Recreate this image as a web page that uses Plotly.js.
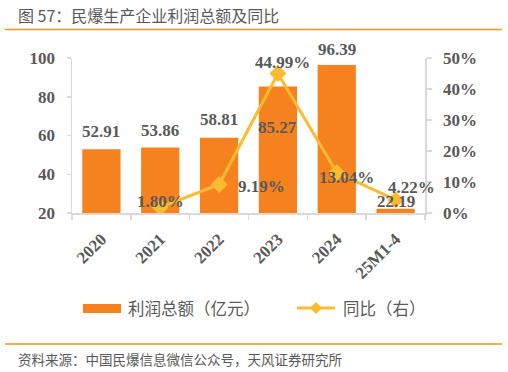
<!DOCTYPE html>
<html><head><meta charset="utf-8">
<script src="https://cdn.plot.ly/plotly-3.0.1.min.js"></script>
<style>html,body{margin:0;padding:0;background:#fff;}#chart{width:508px;height:372px;}</style>
</head><body><div id="chart"></div>
<script>
const categories = ['2020','2021','2022','2023','2024','25M1-4'];
const profit = [52.91, 53.86, 58.81, 85.27, 96.39, 22.19];
const yoy = [null, 0.0180, 0.0919, 0.4499, 0.1304, 0.0422];
const profitLabels = ['52.91','53.86','58.81','85.27','96.39','22.19'];
const yoyLabels = [null,'1.80%','9.19%','44.99%','13.04%','4.22%'];
const leftTicks = [20,40,60,80,100];
const rightTicks = [0,0.1,0.2,0.3,0.4,0.5];
const rightTickText = ['0%','10%','20%','30%','40%','50%'];

const W=508,H=372,L=72,R=83,T=58,B=159;
const pw=W-L-R, ph=H-T-B;
const px = x => (x-L)/pw;
const py = y => (H-B-y)/ph;

const ORANGE='#F5821F', GOLD='#FDBB2F', GRAY='#595959', AX='#D9D9D9';
const numFont={family:'"Liberation Serif", "Times New Roman", serif', size:17, color:GRAY, weight:'bold'};
const cjk='"Noto Sans CJK SC", "Noto Sans", sans-serif';

const barOff=[18,17,18,-41,15,7];
const lineOff=[null,[0,6],[42,-2],[5,11],[10,-5],[16,12]];

const annotations=[];
profit.forEach((v,i)=>{
  annotations.push({x:i, y:v, xref:'x', yref:'y', text:profitLabels[i], showarrow:false,
    yshift:barOff[i], font:numFont, xanchor:'center', yanchor:'middle'});
});
yoy.forEach((v,i)=>{
  if(v===null) return;
  annotations.push({x:i, y:v, xref:'x', yref:'y2', text:yoyLabels[i], showarrow:false,
    xshift:lineOff[i][0], yshift:lineOff[i][1], font:numFont, xanchor:'center', yanchor:'middle'});
});
annotations.push({x:px(16), y:py(15), xref:'paper', yref:'paper', xanchor:'left', yanchor:'middle', showarrow:false,
  text:'图 57：民爆生产企业利润总额及同比', font:{family:cjk, size:16, color:GRAY}});
annotations.push({x:px(16), y:py(359), xref:'paper', yref:'paper', xanchor:'left', yanchor:'middle', showarrow:false,
  text:'资料来源：中国民爆信息微信公众号，天风证券研究所', font:{family:cjk, size:13.5, color:GRAY}});
annotations.push({x:px(126), y:py(308), xref:'paper', yref:'paper', xanchor:'left', yanchor:'middle', showarrow:false,
  text:'利润总额（亿元）', font:{family:cjk, size:16.5, color:GRAY}});
annotations.push({x:px(341), y:py(308), xref:'paper', yref:'paper', xanchor:'left', yanchor:'middle', showarrow:false,
  text:'同比（右）', font:{family:cjk, size:16.5, color:GRAY}});

const shapes=[
  {type:'line', xref:'paper', yref:'paper', x0:px(5), x1:px(502), y0:py(29.5), y1:py(29.5), line:{color:'#F7931E', width:1.5}},
  {type:'line', xref:'paper', yref:'paper', x0:px(5), x1:px(502), y0:py(344), y1:py(344), line:{color:'#F7931E', width:1.5}},
  {type:'rect', xref:'paper', yref:'paper', x0:px(83), x1:px(121), y0:py(304), y1:py(313), fillcolor:ORANGE, line:{width:0}},
  {type:'line', xref:'paper', yref:'paper', x0:px(297), x1:px(335), y0:py(308), y1:py(308), line:{color:GOLD, width:3}},
  {type:'path', xref:'paper', yref:'paper',
    path:`M ${px(316)} ${py(302)} L ${px(322)} ${py(308)} L ${px(316)} ${py(314)} L ${px(310)} ${py(308)} Z`,
    fillcolor:GOLD, line:{width:0}}
];

const data=[
  {type:'bar', x:categories, y:profit, marker:{color:ORANGE}, hoverinfo:'skip', showlegend:false},
  {type:'scatter', mode:'lines+markers', x:categories, y:yoy, yaxis:'y2', line:{color:GOLD, width:3},
   marker:{symbol:'diamond', size:13, color:GOLD}, connectgaps:false, hoverinfo:'skip', showlegend:false}
];

const layout={
  width:W, height:H, margin:{l:L, r:R, t:T, b:B}, paper_bgcolor:'#fff', plot_bgcolor:'#fff',
  bargap:0.35, showlegend:false,
  xaxis:{type:'category', range:[-0.5,5.5], autorange:false, showgrid:false, showline:true, linecolor:AX, linewidth:1.5,
    ticks:'outside', tickson:'boundaries', ticklen:5, tickcolor:AX, tickwidth:1.5,
    tickangle:-45, tickfont:numFont, zeroline:false, ticklabelstandoff:8},
  yaxis:{range:[20,100], autorange:false, tickvals:leftTicks, showgrid:false, showline:true, linecolor:AX, linewidth:1.5,
    ticks:'outside', ticklen:4, tickcolor:AX, tickwidth:1.5, tickfont:numFont, zeroline:false, ticklabelstandoff:8},
  yaxis2:{overlaying:'y', side:'right', range:[0,0.5], autorange:false, tickvals:rightTicks, ticktext:rightTickText,
    showgrid:false, showline:true, linecolor:AX, linewidth:1.5, ticks:'outside', ticklen:5, tickcolor:AX, tickwidth:1.5,
    tickfont:numFont, zeroline:false, ticklabelstandoff:8},
  annotations, shapes
};
Plotly.newPlot('chart', data, layout, {displayModeBar:false, staticPlot:true});
</script></body></html>
